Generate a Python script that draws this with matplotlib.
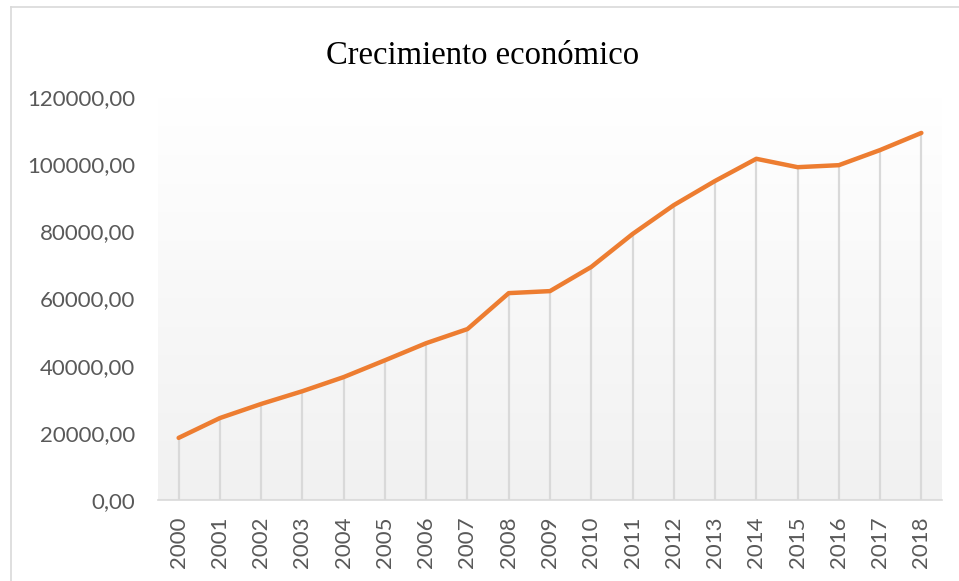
import numpy as np
import matplotlib
matplotlib.use('Agg')
import matplotlib.pyplot as plt
from matplotlib.lines import Line2D

# data
years = [str(y) for y in range(2000, 2019)]
values = [18500, 24400, 28600, 32400, 36600, 41600, 46700, 50900, 61600,
          62200, 69400, 79200, 87800, 95000, 101600, 99100, 99700, 104200, 109300]
yticks = [0, 20000, 40000, 60000, 80000, 100000, 120000]

W, H = 959, 581
fig = plt.figure(figsize=(W / 100, H / 100), dpi=100)

# outer chart frame (left and top edges visible)
fig.add_artist(Line2D([10.5 / W, 10.5 / W], [0, 1 - 7 / H], transform=fig.transFigure,
                      color='#d9d9d9', lw=1.2))
fig.add_artist(Line2D([10.5 / W, 1], [1 - 7 / H, 1 - 7 / H], transform=fig.transFigure,
                      color='#d9d9d9', lw=1.2))

left, right, top, bottom = 158, 942, 97, 500
ax = fig.add_axes([left / W, 1 - bottom / H, (right - left) / W, (bottom - top) / H])

x = np.arange(len(years))
ax.set_xlim(-0.5, len(years) - 0.5)
ax.set_ylim(0, 120000)

# plot area gradient, white at top to light gray at bottom
grad = np.linspace(1.0, 0.945, 256).reshape(-1, 1)
ax.imshow(np.dstack([grad, grad, grad]), extent=[-0.5, len(years) - 0.5, 0, 120000],
          aspect='auto', zorder=0, interpolation='bilinear')

# drop lines
ax.vlines(x, 0, values, color='#d9d9d9', lw=1.6, zorder=1)
ax.plot(x, values, color='#ed7d31', lw=3.2, solid_capstyle='round',
        solid_joinstyle='round', zorder=3)

for s in ['top', 'right', 'left']:
    ax.spines[s].set_visible(False)
ax.spines['bottom'].set_color('#d9d9d9')
ax.spines['bottom'].set_linewidth(1.2)

ax.set_xticks(x)
ax.set_xticklabels(years, rotation=90, fontfamily='Lato', fontsize=16, color='#595959')
ax.set_yticks(yticks)
ax.set_yticklabels([f'{v},00' for v in yticks], fontfamily='Lato', fontsize=16,
                   color='#595959')
ax.tick_params(axis='both', length=0)
ax.tick_params(axis='x', pad=12)
ax.tick_params(axis='y', pad=16.5)

fig.text(483 / W, 1 - 64 / H, 'Crecimiento económico', ha='center', va='baseline',
         fontfamily='Liberation Serif', fontsize=23.5, color='#000000')

fig.savefig('out.png', dpi=100)
